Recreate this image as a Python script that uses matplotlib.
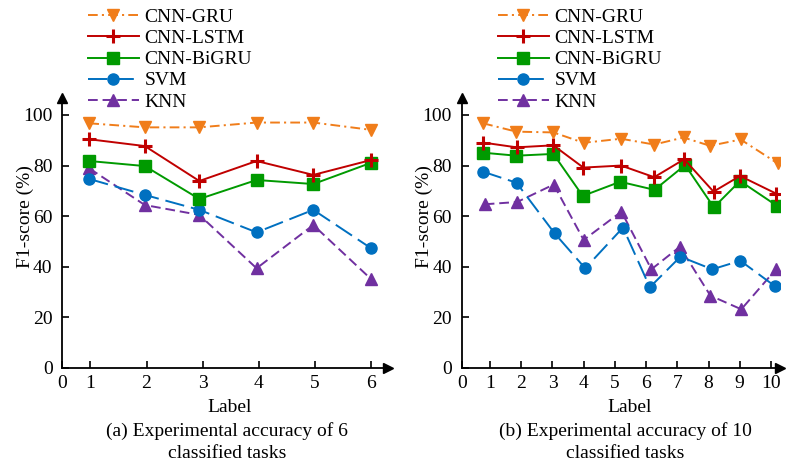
import matplotlib
matplotlib.use("Agg")
import matplotlib.pyplot as plt

plt.rcParams['font.family'] = ['Liberation Serif', 'DejaVu Serif']
plt.rcParams['lines.scale_dashes'] = False

series_names = ["CNN-GRU", "CNN-LSTM", "CNN-BiGRU", "SVM", "KNN"]

# (a) 6 classified tasks
a_x = [0.98, 1.97, 2.94, 3.96, 4.97, 6.0]
a_gru = [96.7, 95.1, 95.1, 97.0, 97.0, 94.1]
a_lstm = [90.4, 87.7, 73.9, 81.8, 76.3, 82.2]
a_bigru = [81.8, 79.8, 66.8, 74.3, 72.7, 81.1]
a_svm = [74.7, 68.4, 62.5, 53.6, 62.5, 47.3]
a_knn = [78.9, 64.4, 60.5, 39.4, 56.5, 35.1]

# (b) 10 classified tasks
b_gru_x = [0.78, 1.84, 3.03, 4.0, 5.2, 6.26, 7.2, 8.05, 9.03, 10.21]
b_gru = [96.7, 93.4, 93.1, 89.0, 90.6, 88.3, 91.1, 87.8, 90.3, 80.9]
b_lstm_x = [0.77, 1.85, 3.03, 3.99, 5.2, 6.26, 7.22, 8.16, 9.01, 10.17]
b_lstm = [89.1, 87.2, 88.0, 79.2, 80.0, 75.4, 82.5, 69.7, 75.9, 68.9]
b_bigru_x = [0.77, 1.84, 3.03, 3.97, 5.17, 6.27, 7.25, 8.17, 9.01, 10.18]
b_bigru = [85.1, 83.9, 84.6, 68.0, 73.6, 70.4, 80.2, 63.5, 73.9, 64.2]
b_svm_x = [0.77, 1.85, 3.07, 4.05, 5.26, 6.12, 7.10, 8.12, 9.02, 10.12]
b_svm = [77.6, 73.2, 53.2, 39.4, 55.5, 31.9, 44.0, 39.0, 42.4, 32.4]
b_knn_x = [0.83, 1.87, 3.04, 4.0, 5.21, 6.17, 7.08, 8.06, 9.05, 10.16]
b_knn = [64.7, 65.6, 72.5, 50.6, 61.8, 39.0, 47.9, 28.6, 23.2, 39.0]

a_ticks = [1, 2, 3, 4, 5, 6]
b_ticks = [1, 2, 3, 4, 5, 6, 7, 8, 9, 10]
y_ticks = [0, 20, 40, 60, 80, 100]

styles = {
    "CNN-GRU": dict(color="#F07D1A", marker="v", ms=8.5, dashes=(7, 3, 1.5, 3)),
    "CNN-LSTM": dict(color="#C00000", marker="+", ms=10, dashes=None),
    "CNN-BiGRU": dict(color="#009A00", marker="s", ms=8, dashes=None),
    "SVM": dict(color="#0070C0", marker="o", ms=8, dashes=(14, 5)),
    "KNN": dict(color="#7030A0", marker="^", ms=8.5, dashes=(7, 3.5)),
}

W, H = 786, 466
fig = plt.figure(figsize=(W / 100, H / 100), dpi=100)

def frac_rect(x0, x1, ytop, ybot):
    return [x0 / W, (H - ybot) / H, (x1 - x0) / W, (ybot - ytop) / H]

ax_a = fig.add_axes(frac_rect(62.3, 388, 98, 368))
ax_b = fig.add_axes(frac_rect(461.7, 780, 98, 368))

def draw(ax, xs_list, ys_list):
    handles = []
    for name, xs, ys in reversed(list(zip(series_names, xs_list, ys_list))):
        st = styles[name]
        if name == "CNN-LSTM":
            ln, = ax.plot(xs, ys, color=st["color"], lw=1.4, marker="+", ms=st["ms"],
                          mew=2.2, label=name)
        else:
            ln, = ax.plot(xs, ys, color=st["color"], lw=1.4, marker=st["marker"],
                          ms=st["ms"], mec=st["color"], mfc=st["color"], label=name)
            if st["dashes"] is not None:
                ln.set_dashes(st["dashes"])
        handles.append(ln)
    return handles[::-1]

def style_axes(ax, xlim, ticks):
    ax.set_xlim(*xlim)
    ax.set_ylim(0, 106.7)
    for s in ["top", "right"]:
        ax.spines[s].set_visible(False)
    for s in ["left", "bottom"]:
        ax.spines[s].set_linewidth(1.3)
    ax.set_xticks([xlim[0]] + ticks)
    ax.set_xticklabels(["0"] + [str(t) for t in ticks])
    ax.set_yticks(y_ticks)
    ax.set_yticklabels([str(t) for t in y_ticks])
    ax.tick_params(axis="both", direction="in", length=5, width=1.2, labelsize=14)
    ax.tick_params(axis="x", pad=5)
    ax.tick_params(axis="y", pad=7)
    ax.plot(1, 0, ">k", ms=7, transform=ax.transAxes, clip_on=False)
    ax.plot(0, 1, "^k", ms=7, transform=ax.transAxes, clip_on=False)
    ax.set_ylabel("F1-score (%)", fontsize=14)

h_a = draw(ax_a, [a_x] * 5, [a_gru, a_lstm, a_bigru, a_svm, a_knn])
h_b = draw(ax_b, [b_gru_x, b_lstm_x, b_bigru_x, b_svm_x, b_knn_x],
           [b_gru, b_lstm, b_bigru, b_svm, b_knn])
style_axes(ax_a, (0.5, 6.3), a_ticks)
style_axes(ax_b, (0.093, 10.29), b_ticks)
ax_a.yaxis.set_label_coords(-0.125 + 12 / (388 - 62.3), 0.56)
ax_b.yaxis.set_label_coords(-0.125 * (388 - 62.3) / (780 - 461.7) + 12 / (780 - 461.7), 0.56)

for ax, h, x0 in [(ax_a, h_a, 88 / W), (ax_b, h_b, 498 / W)]:
    ax.legend(handles=h, labels=series_names, loc="upper left",
              bbox_to_anchor=(x0, 1 - 8.5 / H), bbox_transform=fig.transFigure,
              frameon=False, fontsize=14, numpoints=1, handlelength=2.6,
              handletextpad=0.3, labelspacing=0.18, borderpad=0, borderaxespad=0)

fig.text(230 / W, 1 - 408 / H, "Label", ha="center", va="center", fontsize=14)
fig.text(630 / W, 1 - 408 / H, "Label", ha="center", va="center", fontsize=14)
fig.text(227 / W, 1 - 431 / H, "(a) Experimental accuracy of 6", ha="center", va="center", fontsize=14)
fig.text(227 / W, 1 - 454 / H, "classified tasks", ha="center", va="center", fontsize=14)
fig.text(625 / W, 1 - 431 / H, "(b) Experimental accuracy of 10", ha="center", va="center", fontsize=14)
fig.text(625 / W, 1 - 454 / H, "classified tasks", ha="center", va="center", fontsize=14)

fig.savefig("out.png", dpi=100)
